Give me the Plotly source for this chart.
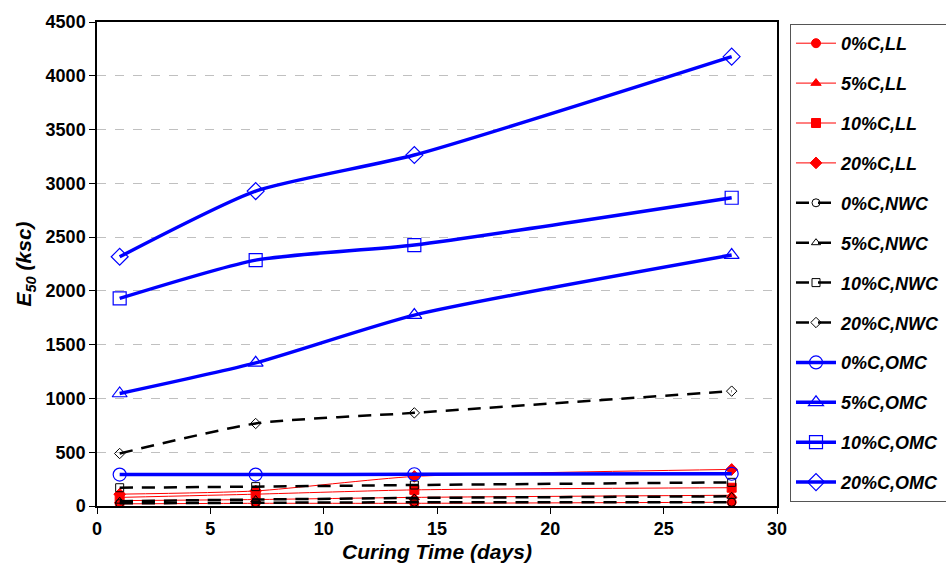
import plotly.graph_objects as go

days = [1, 7, 14, 28]

names = ["0%C,LL", "5%C,LL", "10%C,LL", "20%C,LL",
         "0%C,NWC", "5%C,NWC", "10%C,NWC", "20%C,NWC",
         "0%C,OMC", "5%C,OMC", "10%C,OMC", "20%C,OMC"]

ll_0 = [20, 25, 25, 35]
ll_5 = [50, 60, 80, 100]
ll_10 = [80, 110, 150, 170]
ll_20 = [110, 140, 275, 340]

nwc_0 = [25, 30, 35, 35]
nwc_5 = [45, 60, 75, 90]
nwc_10 = [170, 180, 195, 220]
nwc_20 = [488, 767, 866, 1068]

omc_0 = [292, 292, 295, 300]
omc_5 = [1046, 1331, 1775, 2333]
omc_10 = [1930, 2286, 2426, 2866]
omc_20 = [2317, 2928, 3263, 4178]

series = [ll_0, ll_5, ll_10, ll_20, nwc_0, nwc_5, nwc_10, nwc_20,
          omc_0, omc_5, omc_10, omc_20]

x_ticks = [0, 5, 10, 15, 20, 25, 30]
y_ticks = [0, 500, 1000, 1500, 2000, 2500, 3000, 3500, 4000, 4500]

styles = []
for sym in ["circle", "triangle-up", "square", "diamond"]:
    styles.append(dict(line=dict(color="#ff0000", width=1),
                       marker=dict(symbol=sym, size=9, color="#ff0000",
                                   line=dict(color="#ff0000", width=1))))
for sym in ["circle-open", "triangle-up-open", "square-open", "diamond-open"]:
    styles.append(dict(line=dict(color="black", width=2.5, dash="13px,9px"),
                       marker=dict(symbol=sym, size=8, color="black",
                                   line=dict(color="black", width=1))))
for sym in ["circle-open", "triangle-up-open", "square-open", "diamond-open"]:
    styles.append(dict(line=dict(color="#0000ff", width=3.5),
                       marker=dict(symbol=sym, size=13, color="#0000ff",
                                   line=dict(color="#0000ff", width=1.2))))

fig = go.Figure()
for i in range(12):
    st = styles[i]
    fig.add_trace(go.Scatter(
        x=days, y=series[i], name=names[i], mode="lines+markers",
        line=dict(shape="spline", smoothing=0.6, **st["line"]),
        marker=st["marker"], legendgroup="g%d" % i))

font_family = "Liberation Sans, Arial, sans-serif"
fig.update_layout(
    width=946, height=572,
    margin=dict(l=97, r=169, t=22, b=66, autoexpand=False),
    paper_bgcolor="white", plot_bgcolor="white",
    font=dict(family=font_family, color="black"),
    showlegend=True,
    legend=dict(xref="container", yref="container",
                x=790 / 946, xanchor="left", y=1 - 24 / 572, yanchor="top",
                bordercolor="#555555", borderwidth=1,
                font=dict(size=18, family=font_family, color="black",
                          weight="bold", style="italic"),
                tracegroupgap=13.5, itemwidth=40, maxheight=1,
                traceorder="grouped"),
)
fig.update_xaxes(
    range=[0, 30], tickvals=x_ticks, ticktext=[str(v) for v in x_ticks],
    showline=True, linecolor="black", linewidth=1.5, mirror=True,
    ticks="outside", ticklen=6, tickcolor="black", showgrid=False, zeroline=False,
    tickfont=dict(size=18, weight="bold", family=font_family),
    title=dict(text="Curing Time (days)", standoff=6,
               font=dict(size=21, weight="bold", style="italic", family=font_family)),
)
fig.update_yaxes(
    range=[0, 4500], tickvals=y_ticks, ticktext=[str(v) for v in y_ticks],
    showline=True, linecolor="black", linewidth=1.5, mirror=True,
    ticks="outside", ticklen=6, tickcolor="black", zeroline=False,
    showgrid=True, gridcolor="#c0c0c0", griddash="dash", gridwidth=1,
    tickfont=dict(size=18, weight="bold", family=font_family),
    title=dict(text="E<sub>50</sub> (ksc)", standoff=8,
               font=dict(size=21, weight="bold", style="italic", family=font_family)),
)

fig.write_html("out.html")
